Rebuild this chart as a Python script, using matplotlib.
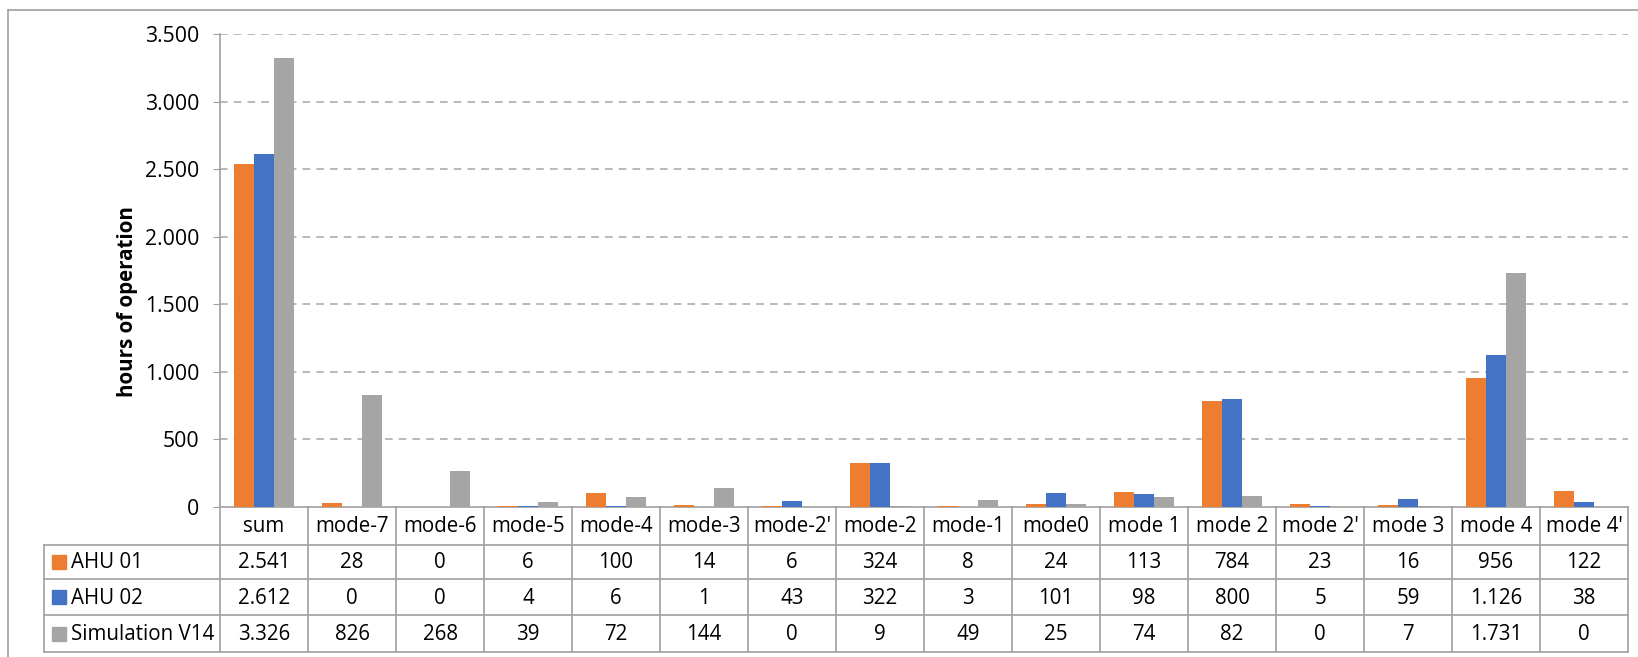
import numpy as np
import matplotlib
matplotlib.use("Agg")
import matplotlib.pyplot as plt
from matplotlib.lines import Line2D
from matplotlib.patches import Rectangle

categories = ["sum", "mode-7", "mode-6", "mode-5", "mode-4", "mode-3", "mode-2'",
              "mode-2", "mode-1", "mode0", "mode 1", "mode 2", "mode 2'", "mode 3",
              "mode 4", "mode 4'"]
ahu01 = [2541, 28, 0, 6, 100, 14, 6, 324, 8, 24, 113, 784, 23, 16, 956, 122]
ahu02 = [2612, 0, 0, 4, 6, 1, 43, 322, 3, 101, 98, 800, 5, 59, 1126, 38]
sim_v14 = [3326, 826, 268, 39, 72, 144, 0, 9, 49, 25, 74, 82, 0, 7, 1731, 0]
series_names = ["AHU 01", "AHU 02", "Simulation V14"]
y_ticks = [0, 500, 1000, 1500, 2000, 2500, 3000, 3500]

COLORS = ["#ED7D31", "#4472C4", "#A5A5A5"]
GRID = "#A6A6A6"
LINE = "#A0A0A0"
FS = 14.8

plt.rcParams["font.family"] = ["Open Sans", "DejaVu Sans"]

W, H = 1638, 657
fig = plt.figure(figsize=(W / 100, H / 100), dpi=100)


def fx(x):
    return x / W


def fy(y):
    return 1 - y / H


# plot area in pixel coords (from the reference)
AX_L, AX_R, AX_T, AX_B = 220, 1628, 34, 507
ax = fig.add_axes([fx(AX_L), fy(AX_B), fx(AX_R) - fx(AX_L), fy(AX_T) - fy(AX_B)])

n = len(categories)
x = np.arange(n)
bw = 0.227
for k, vals in enumerate([ahu01, ahu02, sim_v14]):
    ax.bar(x + (k - 1) * bw, vals, width=bw, color=COLORS[k], zorder=3)

ax.set_xlim(-0.5, n - 0.5)
ax.set_ylim(0, 3500)
ax.set_yticks(y_ticks)
ax.set_yticklabels([f"{v:,}".replace(",", ".") for v in y_ticks], fontsize=FS + 0.5)
ax.set_xticks([])
ax.tick_params(axis="y", length=5, color=LINE, pad=10)
for v in y_ticks[1:]:
    ax.axhline(v, color=GRID, lw=1.1, ls=(0, (5, 4)), zorder=1)
for s in ["top", "right"]:
    ax.spines[s].set_visible(False)
ax.spines["left"].set_color(LINE)
ax.spines["bottom"].set_color(LINE)
ax.spines["left"].set_linewidth(1.2)
ax.spines["bottom"].set_linewidth(1.2)

fig.text(fx(127), fy(302), "hours of operation", rotation=90, fontsize=FS,
         fontweight="bold", ha="center", va="center")

# data table below the axes
col_w = (AX_R - AX_L) / n
row_y = [AX_B, 545, 579, 615, 652]
TAB_L = 44


def hline(x0, x1, y):
    fig.add_artist(Line2D([fx(x0), fx(x1)], [fy(y), fy(y)], color=LINE, lw=1.2))


def vline(x, y0, y1):
    fig.add_artist(Line2D([fx(x), fx(x)], [fy(y0), fy(y1)], color=LINE, lw=1.2))


for y in row_y[1:]:
    hline(TAB_L, AX_R, y)
vline(TAB_L, row_y[1], row_y[-1])
vline(AX_L, AX_B, row_y[-1])
for i in range(1, n + 1):
    vline(AX_L + i * col_w, AX_B, row_y[-1])

for i, cat in enumerate(categories):
    cx = AX_L + (i + 0.5) * col_w
    fig.text(fx(cx), fy((row_y[0] + row_y[1]) / 2 + 1), cat, fontsize=FS,
             ha="center", va="center")

for r, (name, vals) in enumerate(zip(series_names, [ahu01, ahu02, sim_v14])):
    cy = (row_y[r + 1] + row_y[r + 2]) / 2
    fig.add_artist(Rectangle((fx(52), fy(cy + 7)), fx(14), 14 / H,
                             color=COLORS[r], transform=fig.transFigure))
    fig.text(fx(71), fy(cy + 1), name, fontsize=FS, ha="left", va="center")
    for i, v in enumerate(vals):
        cx = AX_L + (i + 0.5) * col_w
        fig.text(fx(cx), fy(cy + 1), f"{v:,}".replace(",", "."), fontsize=FS,
                 ha="center", va="center")

# outer chart border (right and bottom edges are cut off in the source)
hline(8, W, 10)
vline(8, 10, H)

fig.savefig("out.png", dpi=100)
